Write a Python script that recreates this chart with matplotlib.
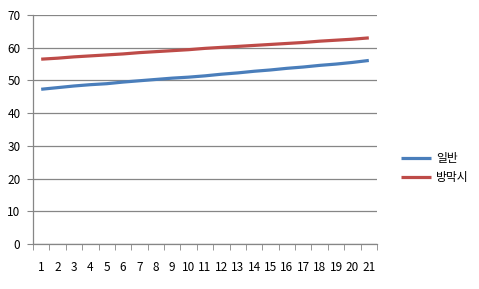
import matplotlib
matplotlib.use("Agg")
import matplotlib.pyplot as plt
import numpy as np

plt.rcParams['font.family'] = ['Noto Sans CJK KR', 'DejaVu Sans']

# chart data
cats = list(range(1, 22))
normal = [47.3, 47.8, 48.3, 48.7, 49.0, 49.5, 49.9, 50.3, 50.7, 51.0, 51.4,
          51.9, 52.3, 52.8, 53.2, 53.7, 54.1, 54.6, 55.0, 55.5, 56.1]
bangmaksi = [56.5, 56.8, 57.2, 57.5, 57.8, 58.1, 58.5, 58.8, 59.1, 59.4, 59.8,
             60.1, 60.4, 60.7, 61.0, 61.3, 61.6, 62.0, 62.3, 62.6, 63.0]
labels = ["일반", "방막시"]
grey = "#868686"

fig = plt.figure(figsize=(4.79, 2.89), dpi=100)
ax = fig.add_axes([33/479, 45/289, 344/479, 229/289])

ax.plot(cats, normal, color="#4A7EBB", lw=2.3, label=labels[0], solid_capstyle="butt")
ax.plot(cats, bangmaksi, color="#BE4B48", lw=2.3, label=labels[1], solid_capstyle="butt")

ax.set_xlim(0.5, 21.5)
ax.set_ylim(0, 70)
ax.set_yticks(np.arange(0, 71, 10))
ax.set_xticks(cats)
ax.set_xticks(np.arange(0.5, 22, 1), minor=True)
ax.tick_params(axis="x", which="major", length=0, pad=12, labelsize=8.5)
ax.tick_params(axis="x", which="minor", length=4, color=grey, direction="out")
ax.tick_params(axis="y", length=4, color=grey, direction="out", labelsize=8.5, pad=5)
ax.yaxis.grid(True, color=grey, lw=0.9)
ax.set_axisbelow(True)
for s in ["top", "right"]:
    ax.spines[s].set_visible(False)
for s in ["left", "bottom"]:
    ax.spines[s].set_color(grey)
    ax.spines[s].set_linewidth(0.9)

fig.legend(loc="center left", bbox_to_anchor=(390/479, 1 - 168/289), frameon=False,
           fontsize=8.5, handlelength=2.6, handletextpad=0.4, labelspacing=0.45)

fig.savefig("out.png", dpi=100)
